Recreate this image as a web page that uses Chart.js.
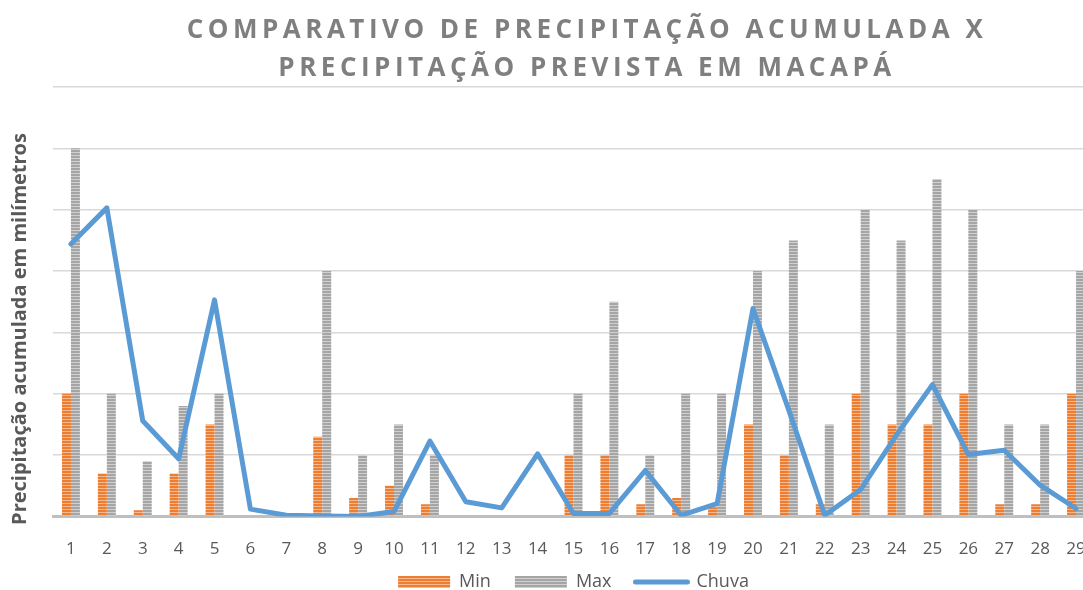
<!DOCTYPE html>
<html>
<head>
<meta charset="utf-8">
<script src="https://cdn.jsdelivr.net/npm/chart.js@4.4.1/dist/chart.umd.min.js"></script>
<style>
  html, body { margin: 0; padding: 0; background: #fff; }
  #wrap { width: 1083px; height: 590px; overflow: hidden; position: relative; }
  #box { width: 1170px; height: 590px; position: absolute; left: 0; top: 0; }
</style>
</head>
<body>
<div id="wrap"><div id="box"><canvas id="grafico"></canvas></div></div>
<script>
// dias do mês
const dias = ['1','2','3','4','5','6','7','8','9','10','11','12','13','14','15','16','17','18','19','20','21','22','23','24','25','26','27','28','29'];
// previsão mínima (mm)
const minimo = [20, 7, 1, 7, 15, 0, 0, 13, 3, 5, 2, 0, 0, 0, 10, 10, 2, 3, 1.5, 15, 10, 2, 20, 15, 15, 20, 2, 2, 20];
// previsão máxima (mm)
const maximo = [60, 20, 9, 18, 20, 0, 0, 40, 10, 15, 10, 0, 0, 0, 20, 35, 10, 20, 20, 40, 45, 15, 50, 45, 55, 50, 15, 15, 40];
// chuva acumulada observada (mm)
const chuva = [44.4, 50.3, 15.6, 9.4, 35.3, 1.2, 0.2, 0.1, 0, 0.8, 12.3, 2.4, 1.4, 10.2, 0.5, 0.5, 7.5, 0.2, 2.1, 33.9, 17.3, 0.2, 4.4, 13.3, 21.5, 10.1, 10.8, 5.1, 1.3];

const titulo = ['COMPARATIVO DE PRECIPITAÇÃO ACUMULADA X', 'PRECIPITAÇÃO PREVISTA EM MACAPÁ'];
const tituloEixoY = 'Precipitação acumulada em milímetros';

// listras horizontais como no Excel
function listras(cor, corClara) {
    const c = document.createElement('canvas');
    c.width = 4; c.height = 3;
    const g = c.getContext('2d');
    g.fillStyle = cor;
    g.fillRect(0, 0, 4, 3);
    g.fillStyle = corClara;
    g.fillRect(0, 2, 4, 1);
    return g.createPattern(c, 'repeat');
}

const padraoMin = listras('#ED7D31', '#F6B88F');
const padraoMax = listras('#A5A5A5', '#D0D0D0');

// título com espaçamento entre letras + título do eixo y
const textos = {
    id: 'textos',
    afterLayout(chart) {
        // posiciona a legenda como no original
        const leg = chart.legend;
        leg.top = 549;
        leg.bottom = 590;
        leg.height = 41;
    },
    afterDraw(chart) {
        const ctx = chart.ctx;
        ctx.save();
        ctx.fillStyle = '#7F7F7F';
        ctx.font = 'bold 26px "Open Sans"';
        ctx.textAlign = 'center';
        ctx.textBaseline = 'middle';
        ctx.letterSpacing = '4.5px';
        ctx.fillText(titulo[0], chart.width / 2 + 2, 31);
        ctx.fillText(titulo[1], chart.width / 2 + 2, 69);
        ctx.restore();

        ctx.save();
        ctx.fillStyle = '#595959';
        ctx.font = 'bold 20px "Open Sans"';
        ctx.textAlign = 'center';
        ctx.textBaseline = 'middle';
        ctx.translate(20, 329);
        ctx.rotate(-Math.PI / 2);
        ctx.fillText(tituloEixoY, 0, 0);
        ctx.restore();
    }
};

const ctx = document.getElementById('grafico').getContext('2d');

new Chart(ctx, {
    type: 'bar',
    data: {
        labels: dias,
        datasets: [{
            label: 'Min',
            data: minimo,
            backgroundColor: padraoMin,
            borderWidth: 0,
            categoryPercentage: 0.5,
            barPercentage: 1,
            order: 2
        }, {
            label: 'Max',
            data: maximo,
            backgroundColor: padraoMax,
            borderWidth: 0,
            categoryPercentage: 0.5,
            barPercentage: 1,
            order: 2
        }, {
            type: 'line',
            label: 'Chuva',
            data: chuva,
            borderColor: '#5B9BD5',
            backgroundColor: '#5B9BD5',
            borderWidth: 5,
            pointRadius: 0,
            tension: 0,
            borderJoinStyle: 'round',
            borderCapStyle: 'round',
            order: 1
        }]
    },
    options: {
        responsive: true,
        maintainAspectRatio: false,
        animation: false,
        layout: {
            padding: { top: 87, left: 53, right: 76, bottom: 9.5 }
        },
        plugins: {
            legend: {
                position: 'bottom',
                maxHeight: 20,
                labels: {
                    usePointStyle: true,
                    pointStyleWidth: 52,
                    boxHeight: 12,
                    padding: 24,
                    color: '#595959',
                    font: { family: '"Open Sans"', size: 18 },
                    generateLabels: function (chart) {
                        return [
                            { text: 'Min', fillStyle: padraoMin, strokeStyle: 'transparent', lineWidth: 0, pointStyle: 'rect', datasetIndex: 0, fontColor: '#595959' },
                            { text: 'Max', fillStyle: padraoMax, strokeStyle: 'transparent', lineWidth: 0, pointStyle: 'rect', datasetIndex: 1, fontColor: '#595959' },
                            { text: 'Chuva', fillStyle: '#5B9BD5', strokeStyle: '#5B9BD5', lineWidth: 5, lineCap: 'round', pointStyle: 'line', datasetIndex: 2, fontColor: '#595959' }
                        ];
                    }
                }
            },
            tooltip: { enabled: false }
        },
        scales: {
            x: {
                offset: true,
                grid: { display: false },
                border: { color: '#BFBFBF', width: 3 },
                ticks: {
                    color: '#595959',
                    font: { family: '"Open Sans"', size: 17 },
                    maxRotation: 0,
                    autoSkip: false,
                    padding: 14
                },
                afterFit: function (escala) {
                    escala.height = 44;
                }
            },
            y: {
                min: 0,
                max: 70,
                ticks: { display: false, stepSize: 10 },
                grid: { color: '#D9D9D9', lineWidth: 1.5, drawTicks: false },
                border: { display: false }
            }
        }
    },
    plugins: [textos]
});
</script>
</body>
</html>
